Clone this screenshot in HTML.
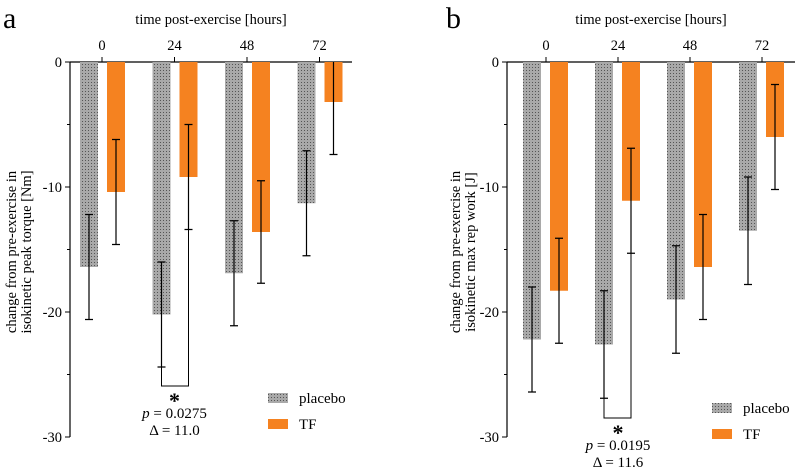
<!DOCTYPE html>
<html><head><meta charset="utf-8"><style>
html,body{margin:0;padding:0;background:#fff;width:800px;height:475px;overflow:hidden}
svg{font-family:"Liberation Serif",serif}
</style></head><body>
<svg id="chart" width="800" height="475" viewBox="0 0 800 475">
<defs>
<pattern id="dots" width="3" height="3" patternUnits="userSpaceOnUse">
<rect width="3" height="3" fill="#a9a9a9"/><rect x="1" y="1" width="1" height="1" fill="#555"/>
</pattern>
</defs>
</svg>
<script>
const categories = ["0","24","48","72"];
const yTicks = [0,-10,-20,-30];
const aPlacebo = [-16.4,-20.2,-16.9,-11.3];
const aPlaceboErr = [4.2,4.2,4.2,4.2];
const aTF = [-10.4,-9.2,-13.6,-3.2];
const aTFErr = [4.2,4.2,4.1,4.2];
const bPlacebo = [-22.2,-22.6,-19.0,-13.5];
const bPlaceboErr = [4.2,4.3,4.3,4.3];
const bTF = [-18.3,-11.1,-16.4,-6.0];
const bTFErr = [4.2,4.2,4.2,4.2];
const svg = document.getElementById('chart');
const NS = 'http://www.w3.org/2000/svg';
function mk(tag, attrs, parent){const e=document.createElementNS(NS,tag);for(const k in attrs)e.setAttribute(k,attrs[k]);(parent||svg).appendChild(e);return e;}
function txt(s, attrs, parent){const e=mk('text',attrs,parent);e.textContent=s;return e;}

function panel(cfg){
  const g = mk('g',{});
  
  
  const y = v => 62 - v*12.5;
  const x = i => cfg.x0 + i*cfg.step;
  const L = txt(cfg.letter,{x:cfg.letterX,y:28,'font-size':30},g);
  
  
  const T = txt('time post-exercise [hours]',{x:cfg.titleX,y:24,'font-size':14.5,'text-anchor':'middle'},g);
  
  
  const ya = mk('line',{x1:cfg.ax,y1:y(0),x2:cfg.ax,y2:y(-30),stroke:'#000','stroke-width':1.2},g);
  
  
  const xa = mk('line',{x1:cfg.ax,y1:y(0),x2:cfg.axEnd,y2:y(0),stroke:'#000','stroke-width':1.2},g);
  
  
  for(let v=0; v>=-30; v-=5){
    mk('line',{x1:cfg.ax-(v%10===0?5:3),y1:y(v),x2:cfg.ax,y2:y(v),stroke:'#000'},g);
  }
  yTicks.forEach(v=>{
    const t = txt(String(v),{x:cfg.ax-8,y:y(v)+5,'font-size':14.5,'text-anchor':'end'},g);
    
    
  });
  categories.forEach((c,i)=>{
    mk('line',{x1:x(i),y1:y(0),x2:x(i),y2:y(0)-5,stroke:'#000'},g);
    const t = txt(c,{x:x(i),y:50,'font-size':14.5,'text-anchor':'middle'},g);
    
    
  });
  const yt = mk('text',{transform:`translate(${cfg.ytX},252) rotate(-90)`,'font-size':14.5,'text-anchor':'middle'},g);
  
  
  const s1 = mk('tspan',{x:0,y:0},yt); s1.textContent='change from pre-exercise in';
  const s2 = mk('tspan',{x:0,y:15},yt); s2.textContent=cfg.ytitle;
  const series=[[cfg.pl,cfg.plErr,cfg.offP,'url(#dots)','placebo'],[cfg.tf,cfg.tfErr,cfg.offT,'#f58220','tf']];
  series.forEach(([vals,errs,off,fill,nm])=>{
    vals.forEach((v,i)=>{
      const cx = x(i)+off;
      const r = mk('rect',{x:cx-9,y:y(0),width:18,height:y(v)-y(0),fill:fill},g);
      
      
      const top = Math.min(v+errs[i],0);
      const e = mk('path',{d:`M${cx} ${y(top)}V${y(v-errs[i])}M${cx-4} ${y(v-errs[i])}H${cx+4}`+(v+errs[i]<0?`M${cx-4} ${y(v+errs[i])}H${cx+4}`:''),stroke:'#000','stroke-width':1.2,fill:'none'},g);
      
      
    });
  });
  const px = x(1)+cfg.offP, tx = x(1)+cfg.offT;
  const br = mk('path',{d:`M${px} ${y(cfg.pl[1]-cfg.plErr[1])}V${cfg.brY}H${tx}V${y(cfg.tf[1]-cfg.tfErr[1])}`,stroke:'#000',fill:'none','stroke-width':1},g);
  
  
  const st = txt('*',{x:x(1),y:cfg.brY+22,'font-size':22,'font-weight':'bold','text-anchor':'middle'},g);
  
  
  const p = txt('',{x:x(1),y:cfg.brY+32,'font-size':15,'text-anchor':'middle'},g);
  
  
  const pi = mk('tspan',{'font-style':'italic'},p); pi.textContent='p';
  const pr = mk('tspan',{},p); pr.textContent=' = '+cfg.p;
  const d = txt('Δ = '+cfg.delta,{x:x(1),y:cfg.brY+49,'font-size':15,'text-anchor':'middle'},g);
  
  
  [['placebo','url(#dots)',0],['TF','#f58220',26]].forEach(([n,f,dy])=>{
    const le = mk('g',{},g);
    
    
    mk('rect',{x:cfg.lgX,y:cfg.lgY+dy,width:20,height:10,fill:f},le);
    txt(n,{x:cfg.lgX+31,y:cfg.lgY+dy+10,'font-size':15},le);
  });
}
panel({name:'panel-a',letter:'a',letterX:3,titleX:211,ax:70,axEnd:352,x0:102,step:72.5,offP:-13,offT:14,ytX:16,ytitle:'isokinetic peak torque [Nm]',
  pl:aPlacebo,plErr:aPlaceboErr,tf:aTF,tfErr:aTFErr,brY:386,p:'0.0275',delta:'11.0',lgX:268,lgY:393});
panel({name:'panel-b',letter:'b',letterX:446,titleX:651,ax:507,axEnd:795,x0:546,step:72,offP:-14,offT:13,ytX:460,ytitle:'isokinetic max rep work [J]',
  pl:bPlacebo,plErr:bPlaceboErr,tf:bTF,tfErr:bTFErr,brY:418,p:'0.0195',delta:'11.6',lgX:712,lgY:403});
</script>
</body></html>
